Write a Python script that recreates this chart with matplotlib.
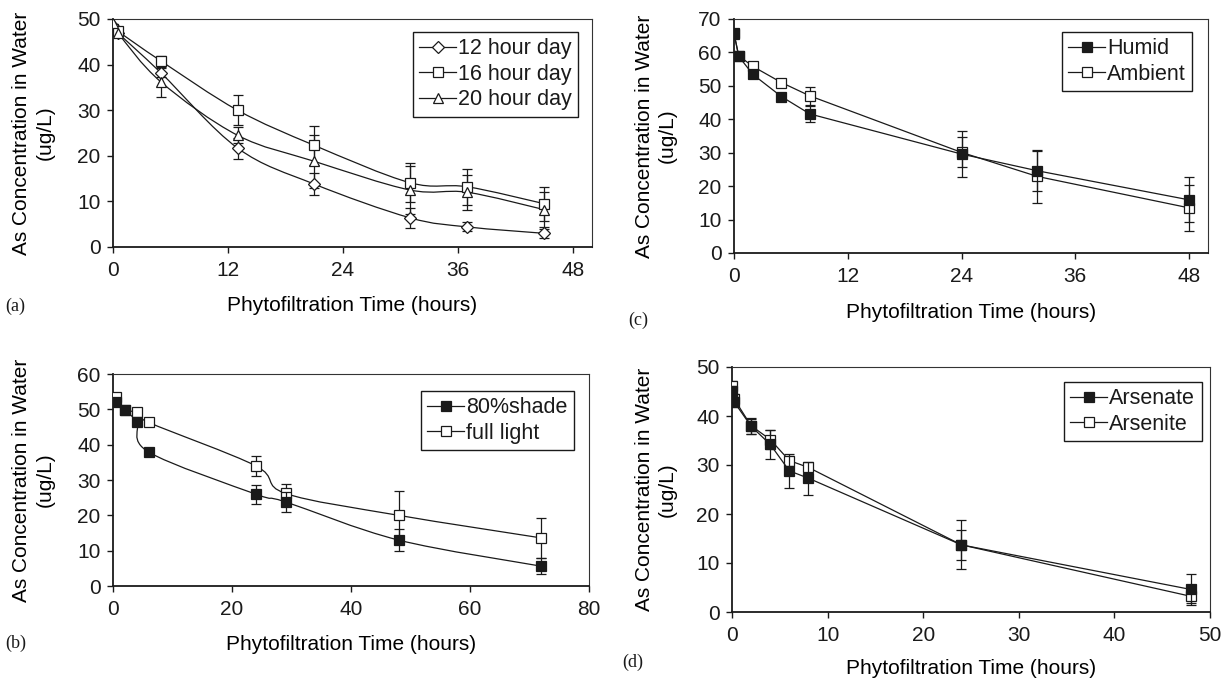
import numpy as np
import matplotlib
matplotlib.use("Agg")
import matplotlib.pyplot as plt
from matplotlib.path import Path
from matplotlib.patches import PathPatch
from matplotlib.lines import Line2D

# (a) day length
time_a = [0, 0.5, 5, 13, 21, 31, 37, 45]
day12 = [48.5, 47.0, 38.2, 21.7, 13.8, 6.4, 4.4, 3.0]
day12_err = [0.5, 0.5, 1.0, 2.3, 2.5, 2.2, 1.0, 1.0]
day16 = [47.8, 47.3, 40.8, 30.0, 22.3, 14.1, 13.2, 9.5]
day16_err = [0.5, 0.5, 1.0, 3.3, 4.3, 4.3, 4.0, 3.7]
day20 = [49.2, 47.0, 36.2, 24.5, 18.8, 12.5, 12.0, 8.2]
day20_err = [1.0, 0.5, 3.3, 1.8, 5.8, 5.3, 3.8, 3.9]

# (b) light
time_b = [0.5, 2, 4, 6, 24, 29, 48, 72]
shade = [52.2, 49.7, 46.3, 37.9, 26.0, 23.8, 13.0, 5.6]
shade_err = [1.0, 0.5, 0.8, 0.5, 2.7, 2.8, 3.2, 2.2]
full = [53.4, 49.8, 49.2, 46.3, 34.0, 26.2, 20.0, 13.6]
full_err = [1.0, 0.5, 0.5, 0.5, 2.9, 2.8, 6.9, 5.7]

# (c) humidity
time_c = [0, 0.5, 2, 5, 8, 24, 32, 48]
humid = [65.9, 58.8, 53.4, 46.8, 41.6, 29.6, 24.6, 15.9]
humid_err = [1.0, 1.0, 1.0, 1.0, 2.4, 7.0, 6.0, 6.7]
ambient = [65.5, 59.0, 55.8, 51.0, 47.0, 30.1, 22.9, 13.5]
ambient_err = [1.0, 1.0, 1.0, 1.2, 2.6, 4.5, 7.8, 6.8]

# (d) arsenic species
time_d = [0, 0.25, 2, 4, 6, 8, 24, 48]
arsenate = [45.1, 42.8, 37.9, 34.2, 28.8, 27.3, 13.7, 4.6]
arsenate_err = [1.0, 1.0, 1.5, 2.9, 3.4, 3.4, 5.0, 3.1]
arsenite = [46.2, 43.4, 38.0, 35.2, 30.9, 29.5, 13.7, 3.2]
arsenite_err = [1.0, 1.0, 1.6, 1.9, 1.0, 1.0, 3.0, 1.4]

ylabel = "As Concentration in Water\n(ug/L)"
xlabel = "Phytofiltration Time (hours)"

W, H = 1230, 681
INK = "#1a1a1a"
plt.rcParams["font.family"] = ["Liberation Sans", "DejaVu Sans"]
plt.rcParams["font.size"] = 15
plt.rcParams["text.color"] = INK


def fig_box(left, top, right, bottom):
    return [left / W, 1 - bottom / H, (right - left) / W, (bottom - top) / H]


def smooth_line(ax, x, y):
    # bezier through the points (Excel style smoothed line)
    p = np.column_stack([x, y]).astype(float)
    n = len(p)
    verts = [p[0]]
    codes = [Path.MOVETO]
    for i in range(n - 1):
        p0 = p[i - 1] if i > 0 else p[i]
        p3 = p[i + 2] if i + 2 < n else p[i + 1]
        c1 = p[i] + (p[i + 1] - p0) / 6
        c2 = p[i + 1] - (p3 - p[i]) / 6
        verts += [c1, c2, p[i + 1]]
        codes += [Path.CURVE4] * 3
    ax.add_patch(PathPatch(Path(verts, codes), fill=False, ec=INK, lw=0.9, zorder=2))


def style(ax, xmax, xticks, ymax, yticks):
    ax.set_xlim(0, xmax)
    ax.set_ylim(0, ymax)
    ax.set_xticks(xticks)
    ax.set_yticks(yticks)
    for s in ["left", "bottom"]:
        ax.spines[s].set_linewidth(1.3)
        ax.spines[s].set_color(INK)
    for s in ["top", "right"]:
        ax.spines[s].set_linewidth(0.8)
        ax.spines[s].set_color("#333333")
    ax.tick_params(direction="out", length=4, width=1.0, color=INK, labelcolor=INK)
    ax.tick_params(axis="x", pad=6)
    ax.tick_params(axis="y", pad=5)


def series(ax, x, y, err, marker, filled, smooth, ms, z):
    if smooth:
        smooth_line(ax, x, y)
    else:
        ax.plot(x, y, color=INK, lw=0.9, zorder=z)
    ax.errorbar(x, y, yerr=err, fmt="none", ecolor=INK, elinewidth=0.9,
                capsize=3.5, capthick=0.9, zorder=z)
    ax.plot(x, y, ls="none", marker=marker, ms=ms, mec=INK, mew=0.9,
            mfc=INK if filled else "white", zorder=z + 0.5)
    return Line2D([], [], color=INK, lw=0.9, marker=marker, ms=ms, mec=INK,
                  mew=0.9, mfc=INK if filled else "white")


def legend(ax, handles, names, left, top):
    leg = ax.legend(handles, names, loc="upper left", bbox_to_anchor=(left / W, 1 - top / H),
                    bbox_transform=fig.transFigure, frameon=True, fancybox=False,
                    edgecolor=INK, framealpha=1, borderpad=0.3, labelspacing=0.2,
                    handlelength=1.7, handletextpad=0.1, borderaxespad=0,
                    fontsize=15.5)
    leg.get_frame().set_linewidth(1.0)


fig = plt.figure(figsize=(W / 100, H / 100), dpi=100)

# (a)
ax_a = fig.add_axes(fig_box(113, 19, 592, 247))
style(ax_a, 50, [0, 12, 24, 36, 48], 50, range(0, 51, 10))
h1 = series(ax_a, time_a, day12, day12_err, "D", False, True, 6, 3)
h2 = series(ax_a, time_a, day16, day16_err, "s", False, True, 7, 3)
h3 = series(ax_a, time_a, day20, day20_err, "^", False, True, 7.5, 3)
legend(ax_a, [h1, h2, h3], ["12 hour day", "16 hour day", "20 hour day"], 413, 32)

# (b)
ax_b = fig.add_axes(fig_box(113, 374, 589, 586))
style(ax_b, 80, range(0, 81, 20), 60, range(0, 61, 10))
g2 = series(ax_b, time_b, full, full_err, "s", False, True, 7, 3)
g1 = series(ax_b, time_b, shade, shade_err, "s", True, True, 7.5, 4)
legend(ax_b, [g1, g2], ["80%shade", "full light"], 421, 391)

# (c)
ax_c = fig.add_axes(fig_box(734, 19, 1208, 253))
style(ax_c, 50, [0, 12, 24, 36, 48], 70, range(0, 71, 10))
k2 = series(ax_c, time_c, ambient, ambient_err, "s", False, False, 7, 3)
k1 = series(ax_c, time_c, humid, humid_err, "s", True, False, 7.5, 4)
legend(ax_c, [k1, k2], ["Humid", "Ambient"], 1062, 32)

# (d)
ax_d = fig.add_axes(fig_box(732, 367, 1210, 612))
style(ax_d, 50, range(0, 51, 10), 50, range(0, 51, 10))
m2 = series(ax_d, time_d, arsenite, arsenite_err, "s", False, False, 7, 3)
m1 = series(ax_d, time_d, arsenate, arsenate_err, "s", True, False, 7.5, 4)
legend(ax_d, [m1, m2], ["Arsenate", "Arsenite"], 1064, 382)

# axis titles, y labels and panel tags (pixel positions)
spec = [
    (ax_a, 113, 592, 19, 247, 306, 55, "(a)", 5, 306),
    (ax_b, 113, 589, 374, 586, 645, 55, "(b)", 5, 643),
    (ax_c, 734, 1208, 19, 253, 313, 677, "(c)", 628, 320),
    (ax_d, 732, 1210, 367, 612, 668, 677, "(d)", 622, 662),
]
for ax, l, r, t, b, ty, yr, tag, tx, tgy in spec:
    ax.set_xlabel(xlabel)
    ax.xaxis.set_label_coords((l + r) / 2 / W, 1 - ty / H, transform=fig.transFigure)
    ax.xaxis.label.set_va("center")
    ax.set_ylabel(ylabel, linespacing=1.3)
    ax.yaxis.set_label_coords(yr / W, 1 - (t + b) / 2 / H, transform=fig.transFigure)
    fig.text(tx / W, 1 - tgy / H, tag, family="Liberation Serif", fontsize=13,
             ha="left", va="center", color=INK)

fig.savefig("out.png", dpi=100, facecolor="white")
